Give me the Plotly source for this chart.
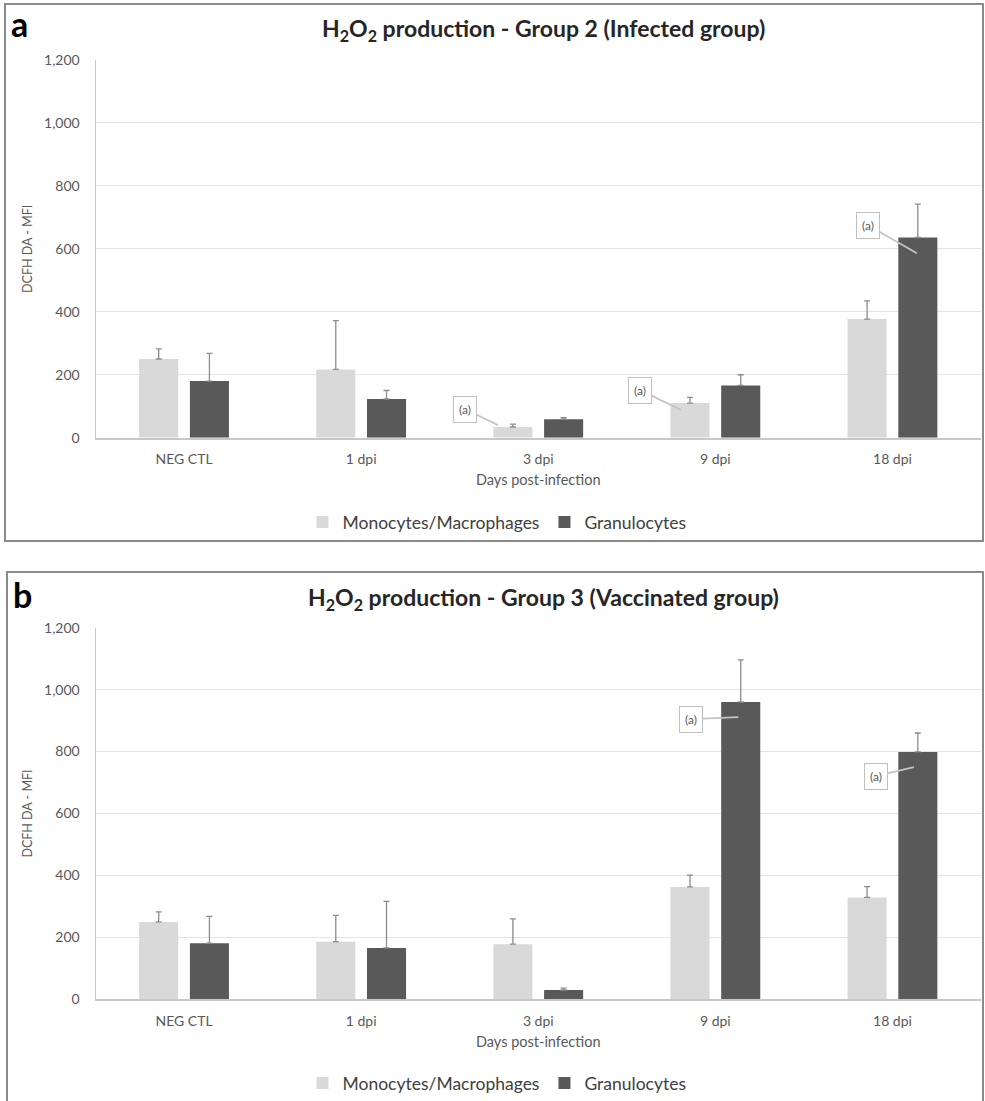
import plotly.graph_objects as go

W, H = 985, 1101

categories = ["NEG CTL", "1 dpi", "3 dpi", "9 dpi", "18 dpi"]
series_names = ["Monocytes/Macrophages", "Granulocytes"]

# Panel a: Group 2 (Infected group)
a_mono = [250, 217, 34, 110, 377]
a_mono_err = [32, 155, 9, 18, 58]
a_gran = [180, 123, 59, 166, 636]
a_gran_err = [88, 27, 5, 34, 106]

# Panel b: Group 3 (Vaccinated group)
b_mono = [250, 186, 178, 363, 329]
b_mono_err = [32, 85, 82, 38, 35]
b_gran = [181, 166, 30, 960, 799]
b_gran_err = [87, 150, 6, 136, 61]

y_ticks = [0, 200, 400, 600, 800, 1000, 1200]

# callouts: (panel, x category index position, y value, ax, ay)
callouts = [
    ("a", 1.773, 40, -33, -16),
    ("a", 2.806, 88, -41, -20),
    ("a", 4.138, 586, -49, -28),
    ("b", 3.13, 911, -47, 2),
    ("b", 4.121, 750, -38, 9),
]

FONT = "Lato"
MONO_C = "#d9d9d9"
GRAN_C = "#595959"
ERR_C = "#8c8c8c"
TXT = "#595959"

fig = go.Figure()

def add_panel(mono, mono_err, gran, gran_err, xa, ya, legend):
    for vals, errs, name, col in ((mono, mono_err, series_names[0], MONO_C),
                                  (gran, gran_err, series_names[1], GRAN_C)):
        fig.add_trace(go.Bar(
            x=categories, y=vals, name=name, marker_color=col,
            marker_line_width=0,
            error_y=dict(type="data", array=errs, arrayminus=[0]*len(vals),
                         symmetric=False, color=ERR_C, thickness=1.3, width=3),
            xaxis=xa, yaxis=ya, legend=legend))

add_panel(a_mono, a_mono_err, a_gran, a_gran_err, "x", "y", "legend")
add_panel(b_mono, b_mono_err, b_gran, b_gran_err, "x2", "y2", "legend2")

def px_x(p):
    return p / W

def px_y(p):
    return 1 - p / H

xdom = [px_x(95.5), px_x(981)]
a_dom = [px_y(437.7), px_y(60)]
b_dom = [px_y(999.3), px_y(627.7)]

xaxis_common = dict(
    type="category", range=[-0.5, 4.5], showline=True, linecolor="#c8c8c8",
    linewidth=1.5, ticks="", showgrid=False, zeroline=False, automargin=False,
    ticklabelstandoff=8,
    tickfont=dict(family=FONT, size=14, color=TXT),
    title=dict(text="Days post-infection", font=dict(family=FONT, size=14.5, color=TXT),
               standoff=9),
)
yaxis_common = dict(
    range=[0, 1200], tickvals=y_ticks, tickformat=",", showline=True,
    linecolor="#c8c8c8", linewidth=1, gridcolor="#e3e3e3", gridwidth=1,
    zeroline=False, ticks="", ticklabelstandoff=12, automargin=False,
    tickfont=dict(family=FONT, size=14, color=TXT),
    title=dict(text="DCFH DA - MFI", font=dict(family=FONT, size=12.5, color=TXT),
               standoff=8),
)

fig.update_layout(
    width=W, height=H, margin=dict(l=0, r=0, t=0, b=0, autoexpand=False),
    paper_bgcolor="white", plot_bgcolor="white",
    barmode="group", bargap=0.427, bargroupgap=0.23,
    font=dict(family=FONT, color=TXT),
    xaxis=dict(domain=xdom, anchor="y", **xaxis_common),
    yaxis=dict(domain=a_dom, anchor="x", **yaxis_common),
    xaxis2=dict(domain=xdom, anchor="y2", **xaxis_common),
    yaxis2=dict(domain=b_dom, anchor="x2", **yaxis_common),
    legend=dict(orientation="h", x=px_x(497), xanchor="center", y=px_y(522), yanchor="middle",
                font=dict(family=FONT, size=17.5, color="#404040"), itemwidth=30),
    legend2=dict(orientation="h", x=px_x(497), xanchor="center", y=px_y(1083), yanchor="middle",
                 font=dict(family=FONT, size=17.5, color="#404040"), itemwidth=30),
)

# frames
fig.add_shape(type="rect", xref="paper", yref="paper",
              x0=px_x(5), x1=px_x(983), y0=px_y(541), y1=px_y(4),
              line=dict(color="#8a8a8a", width=2))
fig.add_shape(type="rect", xref="paper", yref="paper",
              x0=px_x(7), x1=px_x(983), y0=px_y(1120), y1=px_y(572),
              line=dict(color="#8a8a8a", width=2))

# titles and panel letters
fig.add_annotation(xref="paper", yref="paper", x=px_x(543), y=px_y(29),
                   text="<b>H<sub>2</sub>O<sub>2</sub> production - Group 2 (Infected group)</b>",
                   showarrow=False, font=dict(family=FONT, size=23, color="#262626"),
                   xanchor="center", yanchor="middle")
fig.add_annotation(xref="paper", yref="paper", x=px_x(543), y=px_y(598),
                   text="<b>H<sub>2</sub>O<sub>2</sub> production - Group 3 (Vaccinated group)</b>",
                   showarrow=False, font=dict(family=FONT, size=23, color="#262626"),
                   xanchor="center", yanchor="middle")
fig.add_annotation(xref="paper", yref="paper", x=px_x(9), y=px_y(24),
                   text="<b>a</b>", showarrow=False,
                   font=dict(family=FONT, size=34, color="black"),
                   xanchor="left", yanchor="middle")
fig.add_annotation(xref="paper", yref="paper", x=px_x(11), y=px_y(594),
                   text="<b>b</b>", showarrow=False,
                   font=dict(family=FONT, size=34, color="black"),
                   xanchor="left", yanchor="middle")

for panel, xv, yv, ax, ay in callouts:
    xr, yr = ("x", "y") if panel == "a" else ("x2", "y2")
    fig.add_annotation(xref=xr, yref=yr, x=xv, y=yv, ax=ax, ay=ay,
                       text="(a)", showarrow=True, arrowhead=0, arrowwidth=1.8,
                       arrowcolor="#c4c4c4", bordercolor="#bfbfbf", borderwidth=1,
                       borderpad=5, bgcolor="white",
                       font=dict(family=FONT, size=12, color=TXT))

fig.write_html("out.html")
